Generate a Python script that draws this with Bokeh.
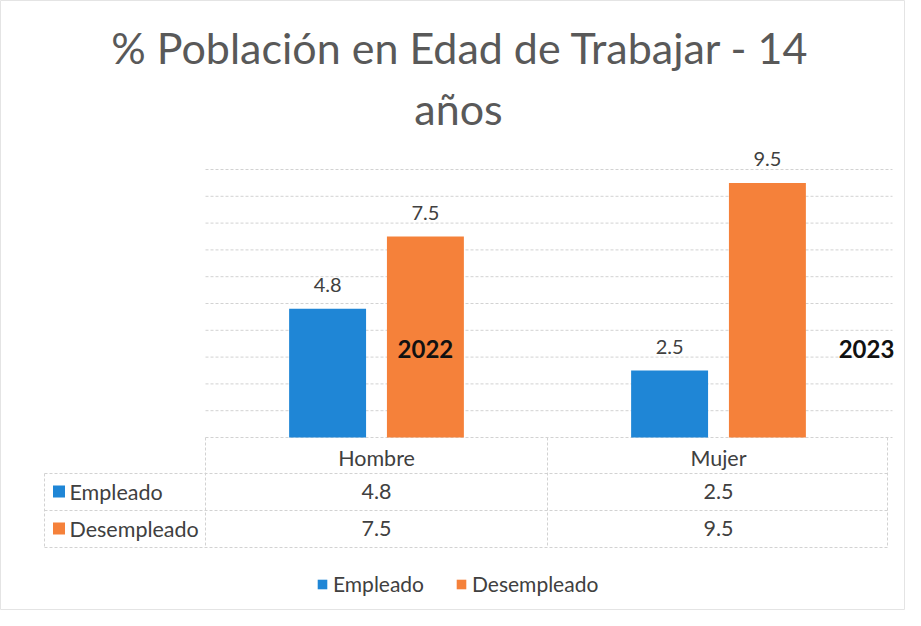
from bokeh.plotting import figure
from bokeh.models import ColumnDataSource, Range1d, Legend, LegendItem, Label
from bokeh.core.properties import value
from bokeh.transform import dodge
from bokeh.embed import file_html
from bokeh.resources import INLINE

# ---------------- data ----------------
categories = ["Hombre", "Mujer"]
series_names = ["Empleado", "Desempleado"]
empleado = [4.8, 2.5]
desempleado = [7.5, 9.5]
grid_values = [0, 1, 2, 3, 4, 5, 6, 7, 8, 9, 10]
year_labels = ["2022", "2023"]
title_lines = ["% Población en Edad de Trabajar - 14", "años"]

# ---------------- style ----------------
BLUE = "#1F86D6"
ORANGE = "#F5813A"
TXT = "#404040"
TITLE_C = "#595959"
GRID_C = "#d2d2d2"
FONT = value("Lato")

# reference-pixel -> data helpers (layout only)
PX_X, X0 = 342.0, 384.0
PX_Y, Y0 = 26.8, 445.0
def dx(px):
    return (px - X0) / PX_X
def dy(py):
    return (Y0 - py) / PX_Y

W, H = 905, 610
p = figure(width=W, height=H, output_backend="svg", toolbar_location=None,
           x_range=Range1d(dx(8), dx(8 + W)), y_range=Range1d(dy(8 + H), dy(8)),
           min_border=0, min_border_left=0, min_border_right=0,
           min_border_top=0, min_border_bottom=0)
p.xaxis.visible = False
p.yaxis.visible = False
p.xgrid.visible = False
p.ygrid.visible = False
p.background_fill_color = "white"
p.border_fill_color = "white"
p.outline_line_color = "#e4e4e4"

idx = list(range(len(categories)))
src = ColumnDataSource(dict(x=idx, cat=categories, emp=empleado, des=desempleado,
                            emp_s=[f"{v:.1f}" for v in empleado],
                            des_s=[f"{v:.1f}" for v in desempleado]))

# gridlines
p.segment(x0=[dx(213)] * len(grid_values), x1=[dx(900)] * len(grid_values),
          y0=grid_values, y1=grid_values, line_color=GRID_C, line_width=1,
          line_dash="3 2")

OFF = 0.143
BW = 0.225
r_emp = p.vbar(x=dodge("x", -OFF), top="emp", width=BW, source=src,
               fill_color=BLUE, line_color=None)
r_des = p.vbar(x=dodge("x", OFF), top="des", width=BW, source=src,
               fill_color=ORANGE, line_color=None)

# data labels
p.text(x=dodge("x", -OFF), y="emp", text="emp_s", source=src, text_align="center",
       text_baseline="alphabetic", y_offset=-24, text_font=FONT,
       text_font_size="20px", text_color=TXT)
p.text(x=dodge("x", OFF), y="des", text="des_s", source=src, text_align="center",
       text_baseline="alphabetic", y_offset=-24, text_font=FONT,
       text_font_size="20px", text_color=TXT)

# year annotations
p.text(x=[OFF, dx(874)], y=[dy(356)] * 2, text=year_labels, text_align="center",
       text_baseline="middle", text_font=FONT, text_font_size="24px",
       text_font_style="bold", text_color="#111111")

# ---- data table ----
tbl_y = [dy(481), dy(518), dy(555)]
p.segment(x0=[dx(52)] * 3, x1=[dx(895)] * 3, y0=tbl_y, y1=tbl_y,
          line_color=GRID_C, line_width=1, line_dash="3 2")
vx = [dx(213), dx(555), dx(895)]
p.segment(x0=vx, x1=vx, y0=[dy(445)] * 3, y1=[dy(555)] * 3,
          line_color=GRID_C, line_width=1, line_dash="3 2")
p.segment(x0=[dx(52)], x1=[dx(52)], y0=[dy(481)], y1=[dy(555)],
          line_color=GRID_C, line_width=1, line_dash="3 2")

TBL_FS = "21.5px"
row_y = [dy(499), dy(536)]
p.text(x="x", y=dy(465), text="cat", source=src, text_align="center",
       text_baseline="middle", text_font=FONT, text_font_size=TBL_FS, text_color=TXT)
p.text(x="x", y=row_y[0], text="emp_s", source=src, text_align="center",
       text_baseline="middle", text_font=FONT, text_font_size=TBL_FS, text_color=TXT)
p.text(x="x", y=row_y[1], text="des_s", source=src, text_align="center",
       text_baseline="middle", text_font=FONT, text_font_size=TBL_FS, text_color=TXT)
p.scatter(x=[dx(66.5)] * 2, y=row_y, marker="square", size=12,
          fill_color=[BLUE, ORANGE], line_color=None)
p.text(x=[dx(77)] * 2, y=row_y, text=series_names, text_align="left",
       text_baseline="middle", text_font=FONT, text_font_size=TBL_FS, text_color=TXT)

# ---- title ----
p.add_layout(Label(x=dx(468), y=dy(55), text=title_lines[0], text_align="center",
                   text_baseline="alphabetic", text_font="Lato",
                   text_font_size="43px", text_color=TITLE_C))
p.add_layout(Label(x=dx(466), y=dy(116), text=title_lines[1], text_align="center",
                   text_baseline="alphabetic", text_font="Lato",
                   text_font_size="43px", text_color=TITLE_C))

# ---- legend ----
legend = Legend(items=[LegendItem(label=series_names[0], renderers=[r_emp]),
                       LegendItem(label=series_names[1], renderers=[r_des])],
                orientation="horizontal", location=(316, 14),
                glyph_width=12, glyph_height=12, label_standoff=5, spacing=31,
                padding=0, margin=0, border_line_alpha=0, background_fill_alpha=0,
                label_text_font="Lato", label_text_font_size="21px",
                label_text_color=TXT)
p.add_layout(legend, "center")

open("out.html", "w").write(file_html(p, INLINE))
